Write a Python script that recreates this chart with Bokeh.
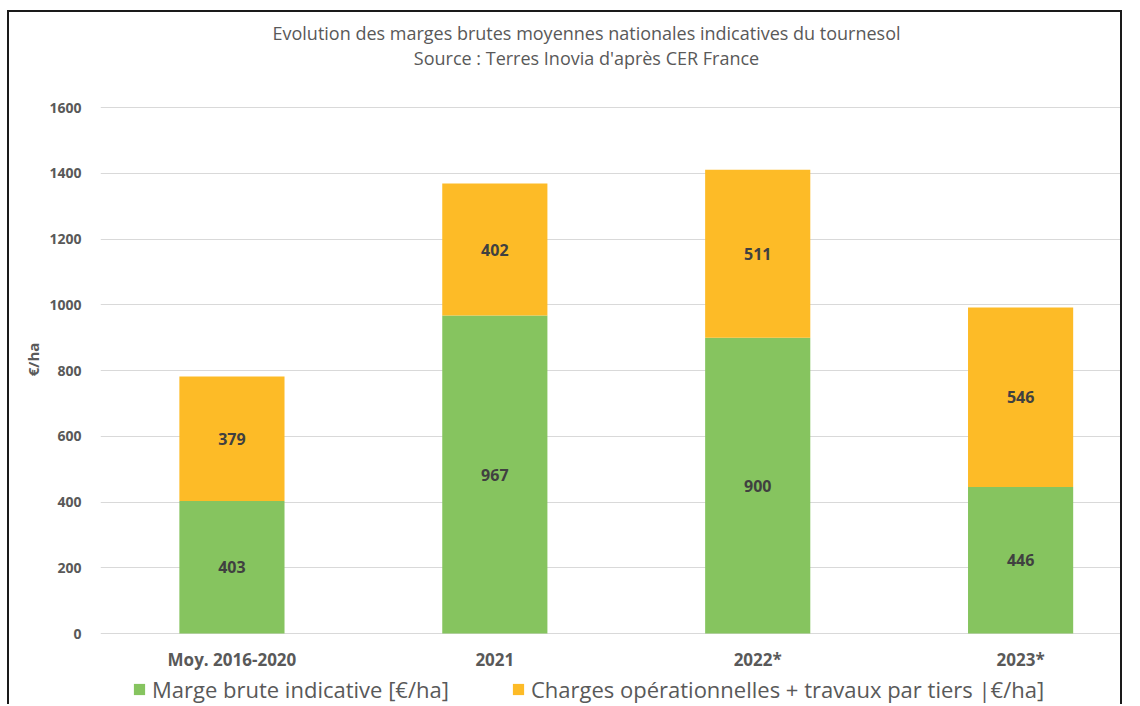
from bokeh.plotting import figure
from bokeh.models import ColumnDataSource, Range1d, FixedTicker, Label, Legend, LegendItem
from bokeh.core.properties import value
from bokeh.embed import file_html
from bokeh.resources import INLINE
import numpy as np

categories = ["Moy. 2016-2020", "2021", "2022*", "2023*"]
marge = [403, 967, 900, 446]
charges = [379, 402, 511, 546]
series_names = ["Marge brute indicative [€/ha]", "Charges opérationnelles + travaux par tiers |€/ha]"]
colors = ["#86C45F", "#FDBB27"]
title1 = "Evolution des marges brutes moyennes nationales indicatives du tournesol"
title2 = "Source : Terres Inovia d'après CER France"
y_ticks = [0, 200, 400, 600, 800, 1000, 1200, 1400, 1600]

FONT = "Open Sans"
GREY = "#595959"
pos = list(np.arange(len(categories)) + 0.5)
src = ColumnDataSource(dict(
    x=pos, marge=marge, charges=charges,
    ym=[m / 2 for m in marge],
    yc=[m + c / 2 for m, c in zip(marge, charges)],
    lm=[str(v) for v in marge], lc=[str(v) for v in charges],
))

# canvas: page x 9.., y 12..706; frame spans full canvas height.
# value 0 at page y 633, value 1600 at page y 107 (526 px)
px_per_unit = 526 / 1600
y_start = -(706 - 633) / px_per_unit
y_end = (633 - 12) / px_per_unit
p = figure(width=1115, height=694, output_backend="svg", toolbar_location=None,
           x_range=Range1d(0, 3.88), y_range=Range1d(y_start, y_end),
           min_border_left=91, min_border_right=4, min_border_top=0, min_border_bottom=0)
p.styles = {"margin-left": "7px", "margin-top": "10px",
            "border-left": "2px solid #1a1a1a", "border-top": "2px solid #1a1a1a",
            "border-right": "2px solid #1a1a1a"}
p.outline_line_color = None

r = p.vbar_stack(["marge", "charges"], x="x", width=0.4, color=colors, source=src, line_color=None)

for col, lab in (("ym", "lm"), ("yc", "lc")):
    p.text(x="x", y=col, text=lab, source=src, text_align="center", text_baseline="middle",
           text_font=value(FONT), text_font_style="bold", text_font_size="16px", text_color="#404040")

p.xgrid.grid_line_color = None
p.ygrid.grid_line_color = "#D9D9D9"
p.ygrid.grid_line_width = 1
p.ygrid.ticker = FixedTicker(ticks=y_ticks)

p.yaxis.ticker = FixedTicker(ticks=y_ticks)
p.yaxis.axis_line_color = None
p.yaxis.major_tick_line_color = None
p.yaxis.minor_tick_line_color = None
p.yaxis.major_label_standoff = 13
p.yaxis.major_label_text_font = FONT
p.yaxis.major_label_text_font_style = "bold"
p.yaxis.major_label_text_font_size = "14px"
p.yaxis.major_label_text_color = GREY
p.yaxis.axis_label = "€/ha"
p.yaxis.axis_label_text_font = FONT
p.yaxis.axis_label_text_font_style = "bold"
p.yaxis.axis_label_text_font_size = "15px"
p.yaxis.axis_label_text_color = GREY
p.yaxis.axis_label_standoff = 3

p.xaxis.fixed_location = 0
p.xaxis.ticker = FixedTicker(ticks=pos)
p.xaxis.major_label_overrides = {float(x): c for x, c in zip(pos, categories)}
p.xaxis.axis_line_color = None
p.xaxis.major_tick_line_color = None
p.xaxis.minor_tick_line_color = None
p.xaxis.major_label_standoff = 8
p.xaxis.major_label_text_font = FONT
p.xaxis.major_label_text_font_style = "bold"
p.xaxis.major_label_text_font_size = "17px"
p.xaxis.major_label_text_color = GREY

# title lines (page y 32 and 57), pixels from the frame's bottom-left
for t, yy in ((title1, 706 - 32), (title2, 706 - 57)):
    p.add_layout(Label(x=486, y=yy, x_units="screen", y_units="screen", text=t,
                       text_align="center", text_baseline="middle", text_font=FONT,
                       text_font_size="18px", text_color=GREY))

legend = Legend(items=[LegendItem(label=series_names[i], renderers=[r[i]]) for i in range(2)],
                location=(32, 2), orientation="horizontal", padding=0, margin=0,
                spacing=62, glyph_width=14, glyph_height=14, label_standoff=6,
                label_text_font=FONT, label_text_font_size="22px", label_text_color=GREY,
                border_line_color=None, background_fill_alpha=0)
p.add_layout(legend)

open("out.html", "w").write(file_html(p, INLINE))
